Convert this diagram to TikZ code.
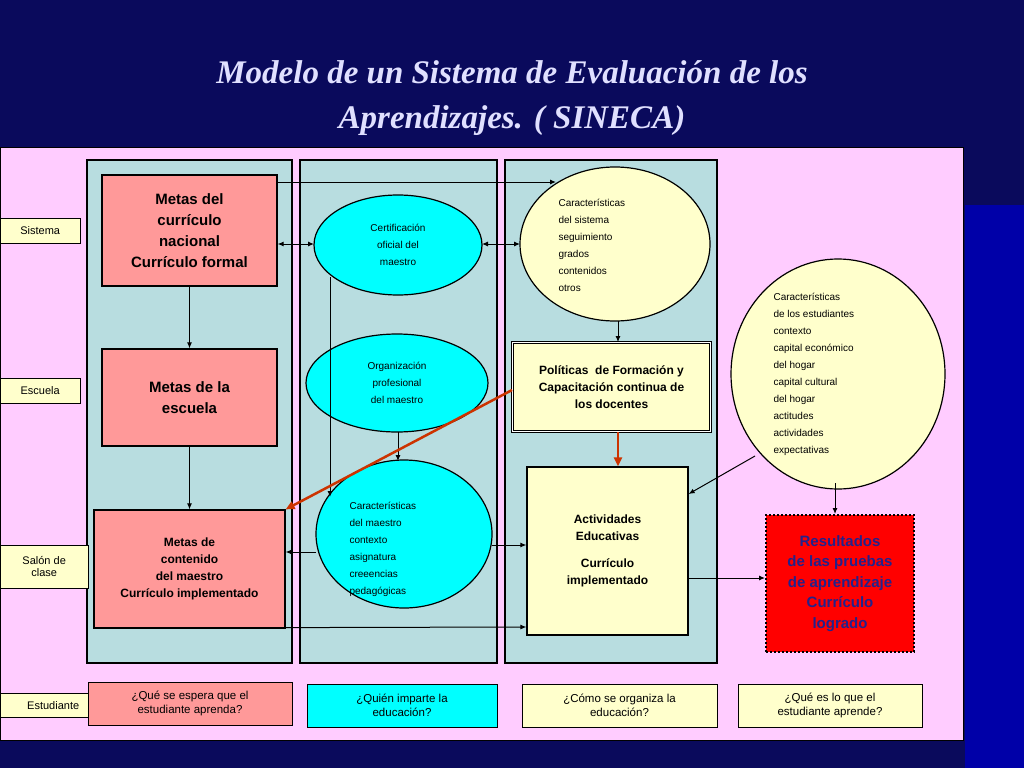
\documentclass[tikz,border=0pt]{standalone}
\usepackage{fontspec}
\setmainfont{Liberation Sans}
\newfontfamily\titlefont{Liberation Serif}
\usetikzlibrary{arrows.meta}
\definecolor{navy}{HTML}{0A0A5C}
\definecolor{bluer}{HTML}{0000A8}
\definecolor{pinkbg}{HTML}{FFCCFF}
\definecolor{colbg}{HTML}{B8DDE0}
\definecolor{salmon}{HTML}{FF9999}
\definecolor{ylw}{HTML}{FFFFCC}
\definecolor{cyn}{HTML}{00FFFF}
\definecolor{redarr}{HTML}{CC3300}
\definecolor{resnavy}{HTML}{22228C}
\begin{document}
\begin{tikzpicture}[x=1pt,y=-1pt,
  lbl/.style={draw=black,fill=ylw,font=\fontsize{11}{12}\selectfont,align=center,inner sep=2pt},
  pbox/.style={draw=black,line width=1.2pt,fill=salmon,align=center,font=\bfseries},
  ell/.style={draw=black,line width=1.2pt,ellipse,fill=cyn,align=center,font=\fontsize{10}{12}\selectfont},
  qbox/.style={draw=black,line width=1pt,align=center,font=\fontsize{11.5}{14}\selectfont},
  arr/.style={-{Latex[length=6pt,width=5pt]},line width=1pt},
  darr/.style={{Latex[length=6pt,width=5pt]}-{Latex[length=6pt,width=5pt]},line width=1pt},
  rarr/.style={-{Triangle[length=9pt,width=8pt]},line width=2.5pt,draw=redarr}]
\useasboundingbox (0,0) rectangle (1024,768);
\fill[navy] (0,0) rectangle (1024,768);
\fill[bluer] (965,205) rectangle (1024,768);
\node[font=\titlefont\bfseries\itshape\fontsize{33}{45}\selectfont,text=white!88!blue,align=center] (title) at (512,98) {Modelo de un Sistema de Evaluación de los\\Aprendizajes. ( SINECA)};
\draw[fill=pinkbg,draw=black,line width=1pt] (0,147) rectangle (963,740);
\draw[fill=colbg,line width=1.5pt] (87,160) rectangle (292,663);
\draw[fill=colbg,line width=1.5pt] (300,160) rectangle (497,663);
\draw[fill=colbg,line width=1.5pt] (505,160) rectangle (717,663);
% side labels
\node[lbl,minimum width=80pt,minimum height=25pt,anchor=north west] (sis) at (0,218) {Sistema};
\node[lbl,minimum width=80pt,minimum height=25pt,anchor=north west] (esc) at (0,378) {Escuela};
\node[lbl,minimum width=88pt,minimum height=43pt,anchor=north west] (sal) at (0,545) {Salón de\\clase};
\node[lbl,minimum width=106pt,minimum height=24pt,anchor=north west] (est) at (0,693) {Estudiante};
% boxes
\node[pbox,minimum width=175pt,minimum height=111pt,font=\bfseries\fontsize{15}{21}\selectfont] (mc) at (189.5,230.5) {Metas del\\currículo\\nacional\\Currículo formal};
\node[pbox,minimum width=175pt,minimum height=97pt,font=\bfseries\fontsize{15}{21}\selectfont] (me) at (189.5,397.5) {Metas de la\\escuela};
\node[pbox,minimum width=191pt,minimum height=118pt,font=\bfseries\fontsize{12}{17}\selectfont] (mt) at (189.5,569) {Metas de\\contenido\\del maestro\\Currículo implementado};
\node[draw=black,double,double distance=1.5pt,line width=0.8pt,fill=ylw,minimum width=198pt,minimum height=89pt,align=center,font=\bfseries\fontsize{12}{17}\selectfont] (pol) at (611.5,387) {Políticas\ \ de Formación y\\Capacitación continua de\\los docentes};
\node[draw=black,line width=1.2pt,fill=ylw,minimum width=161pt,minimum height=168pt,align=center,font=\bfseries\fontsize{12}{17}\selectfont] (act) at (607.5,551) {Actividades\\Educativas\\[10pt]Currículo\\implementado};
\node[draw=black,dotted,line width=2pt,fill=red,minimum width=148pt,minimum height=137pt,align=center,text=resnavy,font=\bfseries\fontsize{15}{20.5}\selectfont] (res) at (840,583.5) {Resultados\\de las pruebas\\de aprendizaje\\Currículo\\logrado};
% ellipses
\draw[line width=1.2pt,fill=cyn] (398,245) ellipse (84 and 50);
\node[align=center,font=\fontsize{10}{17}\selectfont] (cert) at (398,245) {Certificación\\oficial del\\maestro};
\draw[line width=1.2pt,fill=cyn] (397,383) ellipse (91 and 49);
\node[align=center,font=\fontsize{10}{17}\selectfont] (org) at (397,383) {Organización\\profesional\\del maestro};
\draw[line width=1.2pt,fill=cyn] (404,534) ellipse (88 and 74);
\node[align=left,font=\fontsize{10}{17}\selectfont,anchor=west] (cm) at (346,549) {Características\\del maestro\\contexto\\asignatura\\creeencias\\pedagógicas};
\draw[line width=1.2pt,fill=ylw] (615,244) ellipse (95 and 77);
\node[align=left,font=\fontsize{10}{17}\selectfont,anchor=west] (cs) at (555,245) {Características\\del sistema\\seguimiento\\grados\\contenidos\\otros};
\draw[line width=1.2pt,fill=ylw] (838,374) ellipse (107 and 115);
\node[align=left,font=\fontsize{10}{17}\selectfont,anchor=west] (ce) at (770,374) {Características\\de los estudiantes\\contexto\\capital económico\\del hogar\\capital cultural\\del hogar\\actitudes\\actividades\\expectativas};
% bottom questions
\node[qbox,fill=salmon,minimum width=204pt,minimum height=43pt] (q1) at (190,703.5) {¿Qué se espera que el\\estudiante aprenda?};
\node[qbox,fill=cyn,minimum width=190pt,minimum height=43pt] (q2) at (402,705.5) {¿Quién imparte la\\educación?};
\node[qbox,fill=ylw,minimum width=195pt,minimum height=43pt] (q3) at (619.5,705.5) {¿Cómo se organiza la\\educación?};
\node[qbox,fill=ylw,minimum width=184pt,minimum height=43pt] (q4) at (830,705.5) {¿Qué es lo que el\\estudiante aprende?};
% coordinates
\coordinate (a1) at (556,182);
\coordinate (cl) at (314,244); \coordinate (cr) at (482,244);
\coordinate (sl) at (520,244);
\coordinate (cb) at (330,277); \coordinate (cmt) at (330,497);
\coordinate (ob) at (398,432); \coordinate (cmtop) at (398,461);
\coordinate (cml) at (316,552); \coordinate (cmr) at (492,545);
\coordinate (sb) at (618,321);
\coordinate (eb1) at (755,456); \coordinate (eb2) at (835,483);
% arrows
\draw[arr] (mc.north east |- 0,182) -- (a1);
\draw[darr] (mc.east |- 0,244) -- (cl);
\draw[darr] (cr) -- (sl);
\draw[arr] (mc.south) -- (me.north);
\draw[arr] (me.south) -- (mt.north);
\draw[arr] (cb) -- (cmt);
\draw[arr] (ob) -- (cmtop);
\draw[arr] (cml) -- (mt.east |- cml);
\draw[arr] (cmr) -- (act.west |- cmr);
\draw[arr] (mt.south east) ++(0,-1) -- (act.west |- 0,627);
\draw[arr] (sb) -- (pol.north -| sb);
\draw[rarr] (pol.west |- 0,390) -- (mt.north east);
\draw[rarr] (pol.south -| sb) -- (act.north -| sb);
\draw[arr] (eb1) -- (act.east |- 0,494);
\draw[arr] (eb2) -- (res.north -| eb2);
\draw[arr] (act.east |- 0,578) -- (res.west |- 0,578);
\end{tikzpicture}
\end{document}
